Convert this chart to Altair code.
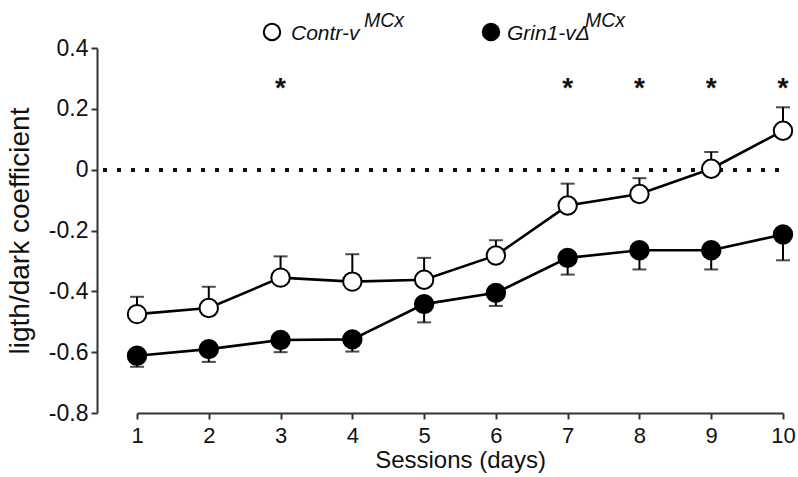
import altair as alt
import pandas as pd

sessions = [1, 2, 3, 4, 5, 6, 7, 8, 9, 10]
contr_mean = [-0.475, -0.455, -0.355, -0.368, -0.362, -0.282, -0.118, -0.080, 0.003, 0.128]
contr_err_top = [-0.418, -0.385, -0.285, -0.278, -0.290, -0.232, -0.046, -0.028, 0.058, 0.205]
grin_mean = [-0.612, -0.590, -0.560, -0.558, -0.442, -0.405, -0.290, -0.265, -0.265, -0.213]
grin_err_bottom = [-0.648, -0.632, -0.600, -0.598, -0.502, -0.448, -0.345, -0.328, -0.328, -0.298]
star_sessions = [3, 7, 8, 9, 10]
star_level = 0.285
y_ticks = [-0.8, -0.6, -0.4, -0.2, 0.0, 0.2, 0.4]

W, H = 646, 365
FONT = "Liberation Sans"

df = pd.DataFrame({
    "session": sessions * 2,
    "mean": contr_mean + grin_mean,
    "err": contr_err_top + grin_err_bottom,
    "group": ["Contr"] * len(sessions) + ["Grin1"] * len(sessions),
})
stars = pd.DataFrame({"session": star_sessions, "y": [star_level] * len(star_sessions), "t": ["*"] * len(star_sessions)})

xs = alt.Scale(domain=[1, 10], nice=False, zero=False)
ys = alt.Scale(domain=[-0.8, 0.4], nice=False, zero=False)

x_axis = alt.Axis(values=sessions, format="d", title="Sessions (days)", grid=False,
                  domainColor="#333", domainWidth=2, tickColor="#333", tickWidth=2, tickSize=6,
                  labelFont=FONT, labelFontSize=22, labelColor="#111", labelPadding=6,
                  titleFont=FONT, titleFontSize=24, titleFontWeight="normal", titleColor="#111",
                  titlePadding=2, labelFlush=False, labelOverlap=False)
y_axis = alt.Axis(values=y_ticks, title="ligth/dark coefficient", grid=False, offset=40,
                  labelExpr="datum.value == 0 ? '0' : (datum.value < 0 ? '-' : '') + format(abs(datum.value), '.1f')",
                  domainColor="#333", domainWidth=2, tickColor="#333", tickWidth=2, tickSize=6,
                  labelFont=FONT, labelFontSize=23, labelColor="#111", labelPadding=3,
                  titleFont=FONT, titleFontSize=28, titleFontWeight="normal", titleColor="#111",
                  titlePadding=14)

base = alt.Chart(df)

zero_line = alt.Chart(df).mark_rule(color="#111", strokeWidth=3.5, strokeDash=[3.5, 10.5]).encode(
    y=alt.datum(0, scale=ys), x=alt.value(-34), x2=alt.value(W)
)

lines = base.mark_line(color="black", strokeWidth=2.6).encode(
    x=alt.X("session:Q", scale=xs, axis=x_axis),
    y=alt.Y("mean:Q", scale=ys, axis=y_axis),
    detail="group:N",
)

err_rules = base.mark_rule(color="black", strokeWidth=2).encode(
    x=alt.X("session:Q", scale=xs), y=alt.Y("mean:Q", scale=ys), y2="err:Q"
)
err_caps = base.mark_tick(color="black", orient="horizontal", size=14, thickness=2).encode(
    x=alt.X("session:Q", scale=xs), y=alt.Y("err:Q", scale=ys)
)

points = base.mark_point(shape="circle", size=340, filled=True, stroke="black", strokeWidth=2, opacity=1).encode(
    x=alt.X("session:Q", scale=xs), y=alt.Y("mean:Q", scale=ys),
    fill=alt.Fill("group:N", scale=alt.Scale(domain=["Contr", "Grin1"], range=["white", "black"]), legend=None),
)

star_marks = alt.Chart(stars).mark_text(font=FONT, fontSize=28, fontWeight="bold", baseline="middle", dy=6, color="#111").encode(
    x=alt.X("session:Q", scale=xs), y=alt.Y("y:Q", scale=ys), text="t:N"
)

# legend (drawn as text/points above the plot area)
leg_df = pd.DataFrame({"k": [0]})
leg_c1 = alt.Chart(leg_df).mark_point(shape="circle", size=270, filled=True, fill="white", stroke="black", strokeWidth=2, opacity=1).encode(
    x=alt.value(135), y=alt.value(-16))
leg_c2 = alt.Chart(leg_df).mark_point(shape="circle", size=270, filled=True, fill="black", stroke="black", strokeWidth=2, opacity=1).encode(
    x=alt.value(354), y=alt.value(-16))
leg_t1 = alt.Chart(leg_df).mark_text(font=FONT, fontSize=21, fontStyle="italic", align="left", baseline="alphabetic", color="#111").encode(
    x=alt.value(154), y=alt.value(-8), text=alt.value("Contr-v"))
leg_s1 = alt.Chart(leg_df).mark_text(font=FONT, fontSize=19.5, fontStyle="italic", align="left", baseline="alphabetic", color="#111").encode(
    x=alt.value(227), y=alt.value(-21), text=alt.value("MCx"))
leg_t2 = alt.Chart(leg_df).mark_text(font=FONT, fontSize=21, fontStyle="italic", align="left", baseline="alphabetic", color="#111").encode(
    x=alt.value(370), y=alt.value(-8), text=alt.value("Grin1-vΔ"))
leg_s2 = alt.Chart(leg_df).mark_text(font=FONT, fontSize=19.5, fontStyle="italic", align="left", baseline="alphabetic", color="#111").encode(
    x=alt.value(448), y=alt.value(-21), text=alt.value("MCx"))

chart = alt.layer(
    zero_line, lines, err_rules, err_caps, points, star_marks,
    leg_c1, leg_c2, leg_t1, leg_s1, leg_t2, leg_s2,
).properties(
    width=W, height=H,
    autosize=alt.AutoSizeParams(type="none"),
    padding={"left": 137, "top": 48, "right": 15, "bottom": 64},
    background="white",
).configure_view(stroke=None)

chart.save("out.html", embed_options={"renderer": "svg", "actions": False})
